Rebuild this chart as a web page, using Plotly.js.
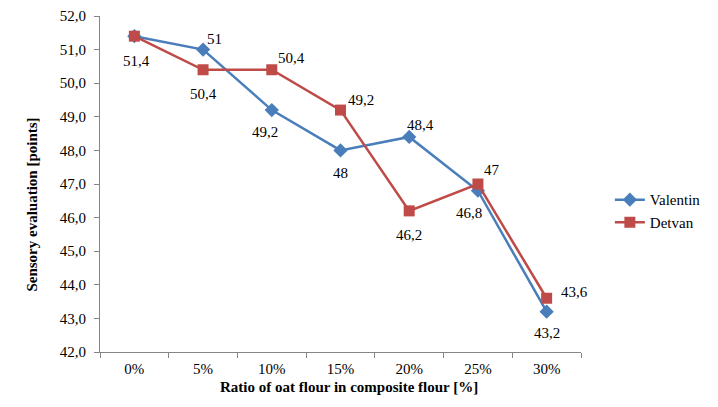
<!DOCTYPE html>
<html>
<head>
<meta charset="utf-8">
<script src="https://cdn.plot.ly/plotly-3.0.1.min.js"></script>
<style>html,body{margin:0;padding:0;background:#fff;}#chart{width:718px;height:407px;}</style>
</head>
<body>
<div id="chart"></div>
<script>
// ---- data ----
var categories = ["0%", "5%", "10%", "15%", "20%", "25%", "30%"];
var valentin = [51.4, 51.0, 49.2, 48.0, 48.4, 46.8, 43.2];
var detvan   = [51.4, 50.4, 50.4, 49.2, 46.2, 47.0, 43.6];
var seriesNames = ["Valentin", "Detvan"];
var yTitle = "Sensory evaluation [points]";
var xTitle = "Ratio of oat flour in composite flour [%]";

// label placement (pixel offsets from the point; null = no label)
var valentinLabelOffsets = [[2,25],[11,-11],[-7,22],[0,23],[11,-12],[-9,22],[0,21]];
var detvanLabelOffsets   = [null,[0,24],[20,-12],[20,-10],[0,24],[14,-14],[28,-6]];

var FONT = "Liberation Serif";
var blue = "#4A7EBB", red = "#BE4B48", axisCol = "#868686";

function fmt(v){ return String(Math.round(v*10)/10).replace(".", ","); }

var traces = [
  {x: categories, y: valentin, name: seriesNames[0], type: "scatter", mode: "lines+markers",
   line: {color: blue, width: 2.5}, marker: {symbol: "diamond", size: 11, color: blue}},
  {x: categories, y: detvan, name: seriesNames[1], type: "scatter", mode: "lines+markers",
   line: {color: red, width: 2.5}, marker: {symbol: "square", size: 11, color: red}}
];

var annotations = [];
function addLabels(vals, offs){
  vals.forEach(function(v, i){
    if (!offs[i]) return;
    annotations.push({x: categories[i], y: v, xref: "x", yref: "y", text: fmt(v),
      showarrow: false, xshift: offs[i][0], yshift: -offs[i][1],
      font: {family: FONT, size: 15, color: "#000"}});
  });
}
addLabels(valentin, valentinLabelOffsets);
addLabels(detvan, detvanLabelOffsets);

annotations.push({text: "<b>" + yTitle + "</b>", xref: "paper", yref: "paper", x: -0.163, y: 0.4375,
  textangle: -90, showarrow: false, font: {family: FONT, size: 15, color: "#000"}});
annotations.push({text: "<b>" + xTitle + "</b>", xref: "paper", yref: "paper", x: 0.5175, y: -0.134,
  showarrow: false, font: {family: FONT, size: 15, color: "#000"}});

var layout = {
  width: 718, height: 407,
  margin: {l: 100, r: 133, t: 16, b: 55},
  paper_bgcolor: "#fff", plot_bgcolor: "#fff",
  separators: ", ",
  font: {family: FONT, size: 15, color: "#000"},
  showlegend: true,
  legend: {x: 1.06, y: 0.42, xanchor: "left", yanchor: "middle",
    font: {family: FONT, size: 15, color: "#000"}, bgcolor: "rgba(0,0,0,0)", tracegroupgap: 0},
  xaxis: {type: "category", range: [-0.5, 6.5], showline: true, linecolor: axisCol, linewidth: 1,
    ticks: "outside", tickson: "boundaries", ticklen: 5, tickcolor: axisCol,
    showgrid: false, zeroline: false, ticklabelstandoff: 3,
    tickfont: {family: FONT, size: 15, color: "#000"}},
  yaxis: {range: [42, 52], dtick: 1, tick0: 42, tickformat: ".1f", showline: true, linecolor: axisCol,
    linewidth: 1, ticks: "outside", ticklen: 5, tickcolor: axisCol, showgrid: false, zeroline: false,
    ticklabelstandoff: 5, tickfont: {family: FONT, size: 15, color: "#000"}},
  annotations: annotations
};

Plotly.newPlot("chart", traces, layout, {displayModeBar: false, staticPlot: true});
</script>
</body>
</html>
